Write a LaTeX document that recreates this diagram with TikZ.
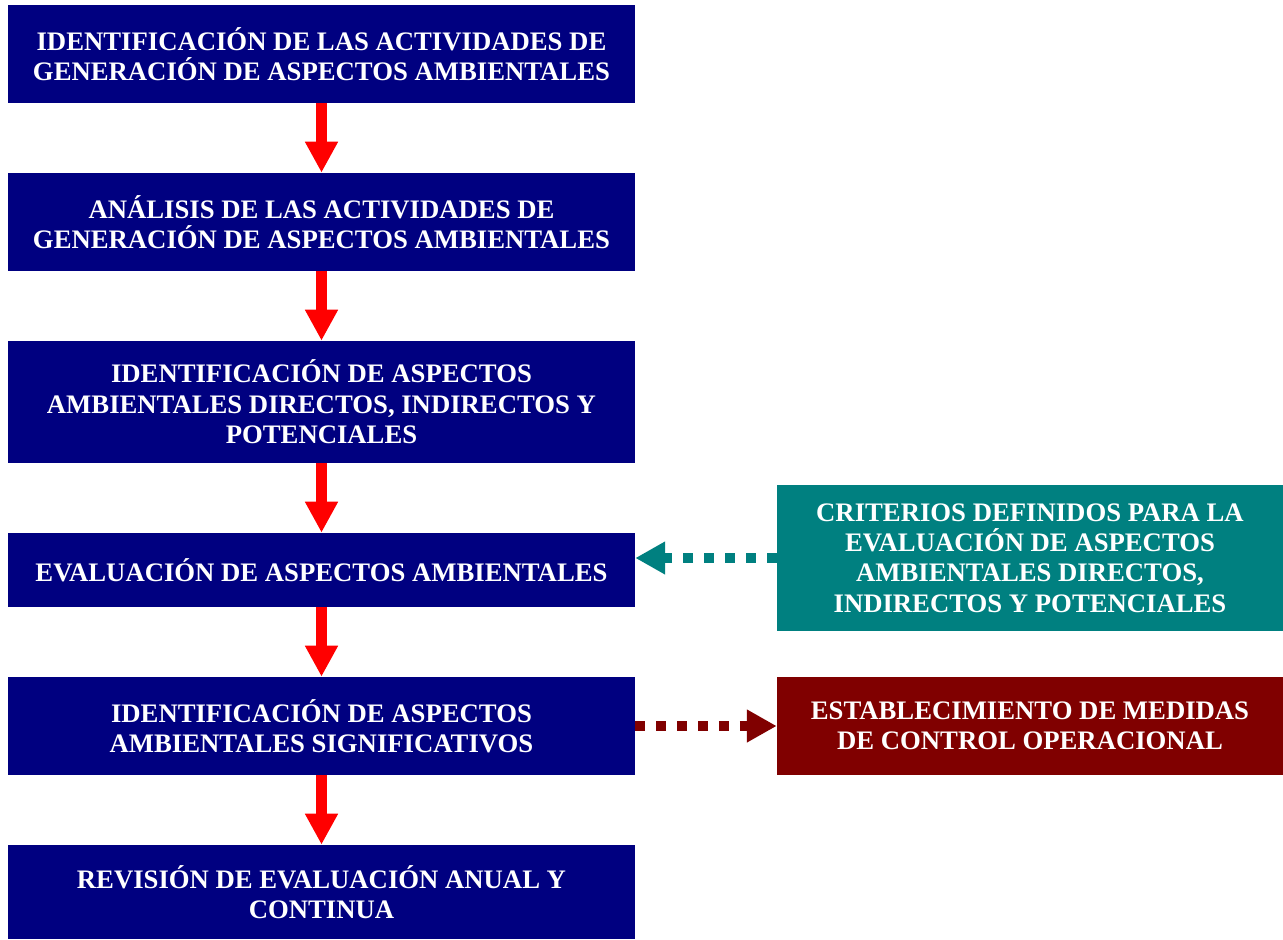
\documentclass[tikz,border=0pt]{standalone}
\usepackage{fontspec}
\setmainfont{Liberation Serif}
\usetikzlibrary{arrows.meta,positioning}

\definecolor{azul}{HTML}{000080}
\definecolor{rojo}{HTML}{FF0000}
\definecolor{verde}{HTML}{008080}
\definecolor{granate}{HTML}{800000}

\tikzset{
  caja/.style={inner sep=0pt, text=white, align=center,
    font=\fontsize{15.2}{17.3}\selectfont\bfseries},
  paso/.style={caja, fill=azul, minimum width=12.54cm},
  criterio/.style={caja, fill=verde, minimum width=10.12cm, minimum height=2.92cm},
  medida/.style={caja, fill=granate, minimum width=10.12cm, minimum height=1.96cm},
  flecha/.style={rojo, line width=6.2pt, -{Triangle[length=17.6pt, width=17.6pt]}},
  punteada/.style={line width=6.2pt, dash pattern=on 5.7pt off 6.2pt,
    -{Triangle[length=17pt, width=17.6pt]}}
}

\begin{document}
\begin{tikzpicture}[x=0.02cm, y=-0.02cm]
        \useasboundingbox (0,0) rectangle (1283,939);
        % pasos
        \node[paso, minimum height=1.96cm] (p1) at (321.5,54) {IDENTIFICACIÓN DE LAS ACTIVIDADES DE\\GENERACIÓN DE ASPECTOS AMBIENTALES};
        \node[paso, minimum height=1.96cm] (p2) at (321.5,222) {ANÁLISIS DE LAS ACTIVIDADES DE\\GENERACIÓN DE ASPECTOS AMBIENTALES};
        \node[paso, minimum height=2.44cm] (p3) at (321.5,402) {IDENTIFICACIÓN DE ASPECTOS\\AMBIENTALES DIRECTOS, INDIRECTOS Y\\POTENCIALES};
        \node[paso, minimum height=1.48cm] (p4) at (321.5,570) {EVALUACIÓN DE ASPECTOS AMBIENTALES};
        \node[paso, minimum height=1.96cm] (p5) at (321.5,726) {IDENTIFICACIÓN DE ASPECTOS\\AMBIENTALES SIGNIFICATIVOS};
        \node[paso, minimum height=1.88cm] (p6) at (321.5,892) {REVISIÓN DE EVALUACIÓN ANUAL Y\\CONTINUA};

        % laterales
        \node[criterio] (c1) at (1030,558) {CRITERIOS DEFINIDOS PARA LA\\EVALUACIÓN DE ASPECTOS\\AMBIENTALES DIRECTOS,\\INDIRECTOS Y POTENCIALES};
        \node[medida] (m1) at (1030,726) {ESTABLECIMIENTO DE MEDIDAS\\DE CONTROL OPERACIONAL};

        \foreach \a/\b in {p1/p2,p2/p3,p3/p4,p4/p5,p5/p6}
            \draw[flecha] (\a.south) -- (\b.north);

        \draw[punteada, verde] (c1.west) -- (c1.west -| p4.east);
        \draw[punteada, granate] (p5.east) -- (m1.west);
    \end{tikzpicture}
\end{document}
